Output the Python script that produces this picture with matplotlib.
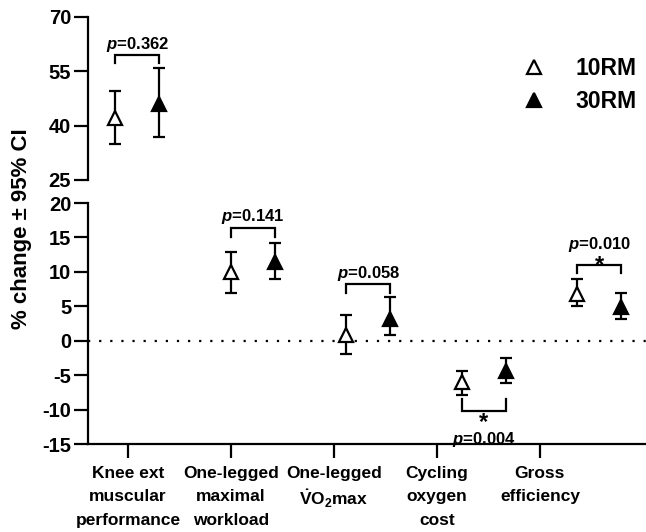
import matplotlib
matplotlib.use("Agg")
import matplotlib.pyplot as plt
from matplotlib.lines import Line2D

plt.rcParams['font.family'] = ['Liberation Sans', 'DejaVu Sans']
plt.rcParams['font.weight'] = 'bold'
plt.rcParams['axes.unicode_minus'] = False
plt.rcParams['mathtext.fontset'] = 'custom'
plt.rcParams['mathtext.rm'] = 'Liberation Sans:bold'
plt.rcParams['mathtext.bf'] = 'Liberation Sans:bold'
plt.rcParams['mathtext.it'] = 'Liberation Sans:italic:bold'
plt.rcParams['mathtext.default'] = 'bf'

categories = ["Knee ext\nmuscular\nperformance",
              "One-legged\nmaximal\nworkload",
              "One-legged\n" + r"$\dot{V}$O$_2$max",
              "Cycling\noxygen\ncost",
              "Gross\nefficiency"]

# mean % change and 95% CI bounds
rm10_mean = [42.0, 10.0, 0.8, -6.0, 6.8]
rm10_lo = [35.0, 7.0, -2.0, -7.9, 5.0]
rm10_hi = [49.6, 12.9, 3.7, -4.4, 8.9]
rm30_mean = [46.0, 11.5, 3.2, -4.4, 4.9]
rm30_lo = [37.0, 8.9, 0.9, -6.2, 3.1]
rm30_hi = [56.0, 14.2, 6.3, -2.5, 7.0]

p_labels = ["0.362", "0.141", "0.058", "0.004", "0.010"]
significant = [False, False, False, True, True]
bracket_level = [59.5, 16.4, 8.2, -10.2, 11.0]
bracket_leg = [57.3, 15.1, 7.0, -8.5, 9.9]

# group placement along the category axis
pos10 = [-0.126 + 1.122 * i for i in range(5)]
pos30 = [p + 0.43 for p in pos10]

fig = plt.figure(figsize=(6.46, 5.32), dpi=100)
ax_top = fig.add_axes([0.136, 0.6617, 0.864, 0.3064])
ax_bot = fig.add_axes([0.136, 0.1654, 0.864, 0.453])

lw = 1.6
for ax in (ax_top, ax_bot):
    ax.set_xlim(-0.39, 5.03)
    for s in ('top', 'right'):
        ax.spines[s].set_visible(False)
    ax.spines['left'].set_linewidth(lw)
    ax.spines['bottom'].set_linewidth(lw)
    ax.tick_params(width=lw, length=10, labelsize=14.5, pad=2)

ax_top.spines['bottom'].set_visible(False)
ax_top.set_xticks([])
ax_top.set_ylim(25, 70)
ax_top.set_yticks([25, 40, 55, 70])

ax_bot.set_ylim(-15, 20)
ax_bot.set_yticks(range(-15, 21, 5))
ax_bot.set_xticks(range(5))
xlabels = ax_bot.set_xticklabels(categories, fontsize=12.5, linespacing=1.68)
xlabels[2].set_linespacing(1.35)  # the dotted V makes this line taller
ax_bot.tick_params(axis='x', pad=6)
ax_bot.axhline(0, color='black', lw=1.6, ls=(0, (1, 4)), zorder=1)

def draw_group(ax, idx):
    for pos, mean, lo, hi, face in ((pos10, rm10_mean, rm10_lo, rm10_hi, 'white'),
                                     (pos30, rm30_mean, rm30_lo, rm30_hi, 'black')):
        x = [pos[i] for i in idx]
        m = [mean[i] for i in idx]
        err = [[mean[i] - lo[i] for i in idx], [hi[i] - mean[i] for i in idx]]
        ax.errorbar(x, m, yerr=err, fmt='none', ecolor='black', elinewidth=lw,
                    capsize=4.5, capthick=lw, zorder=2)
        ax.plot(x, m, ls='none', marker='^', ms=9.5, mfc=face, mec='black',
                mew=1.6, zorder=3)

draw_group(ax_top, [0])
draw_group(ax_bot, [1, 2, 3, 4])

for i in range(5):
    ax = ax_top if i == 0 else ax_bot
    x0, x1 = pos10[i], pos30[i]
    ax.plot([x0, x0, x1, x1], [bracket_leg[i], bracket_level[i], bracket_level[i], bracket_leg[i]],
            color='black', lw=lw, solid_joinstyle='miter', zorder=2)
    xm = (x0 + x1) / 2
    ptxt = r"$\mathit{p}$=" + p_labels[i]
    if bracket_level[i] < bracket_leg[i]:
        # bracket opens upward, labels go underneath
        ax.annotate("*", (xm, bracket_level[i]), xytext=(0, 0), textcoords='offset points',
                    ha='center', va='top', fontsize=17)
        ax.annotate(ptxt, (xm, bracket_level[i]), xytext=(0, -14), textcoords='offset points',
                    ha='center', va='top', fontsize=12)
    elif significant[i]:
        ax.annotate("*", (xm, bracket_level[i]), xytext=(0, -9), textcoords='offset points',
                    ha='center', va='bottom', fontsize=17)
        ax.annotate(ptxt, (xm, bracket_level[i]), xytext=(0, 8), textcoords='offset points',
                    ha='center', va='bottom', fontsize=12)
    else:
        ax.annotate(ptxt, (xm, bracket_level[i]), xytext=(0, 1), textcoords='offset points',
                    ha='center', va='bottom', fontsize=12)

handles = [Line2D([], [], ls='none', marker='^', ms=9.5, mfc='white', mec='black', mew=1.6),
           Line2D([], [], ls='none', marker='^', ms=9.5, mfc='black', mec='black', mew=1.6)]
ax_top.legend(handles, ["10RM", "30RM"], loc='upper right', bbox_to_anchor=(1.02, 0.88),
              frameon=False, fontsize=16.5, handletextpad=0.8, labelspacing=0.45)

fig.text(0.034, 0.57, "% change ± 95% CI", rotation=90, ha='center', va='center',
         fontsize=16)

fig.savefig("out.png", dpi=100)
